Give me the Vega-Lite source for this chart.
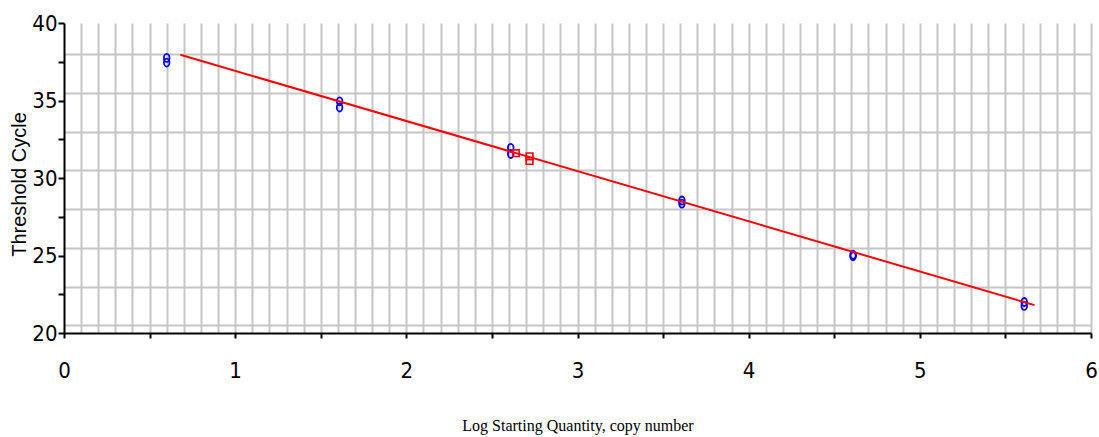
{
  "$schema": "https://vega.github.io/schema/vega-lite/v6.json",
  "autosize": "none",
  "width": 1027,
  "height": 310,
  "padding": {"left": 64, "top": 23, "right": 8, "bottom": 104},
  "background": "white",
  "config": {"view": {"stroke": null}},
  "datasets": {
    "samples": [
      {"logqty": 0.60, "ct": 37.75, "type": "Standard"},
      {"logqty": 0.60, "ct": 37.45, "type": "Standard"},
      {"logqty": 1.61, "ct": 34.95, "type": "Standard"},
      {"logqty": 1.61, "ct": 34.55, "type": "Standard"},
      {"logqty": 2.61, "ct": 31.95, "type": "Standard"},
      {"logqty": 2.61, "ct": 31.55, "type": "Standard"},
      {"logqty": 3.61, "ct": 28.55, "type": "Standard"},
      {"logqty": 3.61, "ct": 28.35, "type": "Standard"},
      {"logqty": 4.61, "ct": 25.05, "type": "Standard"},
      {"logqty": 4.61, "ct": 24.95, "type": "Standard"},
      {"logqty": 5.61, "ct": 22.0, "type": "Standard"},
      {"logqty": 5.61, "ct": 21.75, "type": "Standard"},
      {"logqty": 2.64, "ct": 31.6, "type": "Unknown"},
      {"logqty": 2.72, "ct": 31.4, "type": "Unknown"},
      {"logqty": 2.72, "ct": 31.1, "type": "Unknown"}
    ],
    "fit": [
      {"logqty": 0.68, "ct": 37.95},
      {"logqty": 5.67, "ct": 21.8}
    ]
  },
  "encoding": {
    "x": {
      "field": "logqty",
      "type": "quantitative",
      "scale": {"domain": [0, 6], "nice": false, "zero": false},
      "axis": {
        "title": "Log Starting Quantity, copy number",
        "titleFont": "Liberation Serif",
        "titleFontSize": 16,
        "titleFontWeight": "normal",
        "titleColor": "#000000",
        "titleY": 97,
        "titleBaseline": "alphabetic",
        "values": [0, 0.1, 0.2, 0.3, 0.4, 0.5, 0.6, 0.7, 0.8, 0.9, 1, 1.1, 1.2, 1.3, 1.4, 1.5, 1.6, 1.7, 1.8, 1.9, 2, 2.1, 2.2, 2.3, 2.4, 2.5, 2.6, 2.7, 2.8, 2.9, 3, 3.1, 3.2, 3.3, 3.4, 3.5, 3.6, 3.7, 3.8, 3.9, 4, 4.1, 4.2, 4.3, 4.4, 4.5, 4.6, 4.7, 4.8, 4.9, 5, 5.1, 5.2, 5.3, 5.4, 5.5, 5.6, 5.7, 5.8, 5.9, 6],
        "grid": true,
        "gridColor": "#c6c6c6",
        "gridWidth": 2,
        "gridOpacity": {"condition": {"test": "datum.value < 0.01", "value": 0}, "value": 1},
        "domainColor": "#000000",
        "domainWidth": 2,
        "tickColor": "#000000",
        "tickWidth": 2,
        "tickSize": 5,
        "tickOpacity": {"condition": {"test": "abs(datum.value * 2 - round(datum.value * 2)) < 0.001", "value": 1}, "value": 0},
        "labelExpr": "abs(datum.value - round(datum.value)) < 0.001 ? format(datum.value, 'd') : ''",
        "labelOverlap": false,
        "labelFlush": false,
        "labelBound": false,
        "labelFont": "Liberation Sans Narrow, DejaVu Sans Condensed, Arial Narrow, Liberation Sans",
        "labelFontSize": 22,
        "labelColor": "#000000",
        "labelPadding": 22
      }
    },
    "y": {
      "field": "ct",
      "type": "quantitative",
      "scale": {"domain": [20, 40], "nice": false, "zero": false},
      "axis": {
        "title": "Threshold Cycle",
        "titleFont": "Liberation Sans",
        "titleFontSize": 20,
        "titleFontWeight": "normal",
        "titleColor": "#000000",
        "titleX": -39,
        "titleY": 161,
        "titleBaseline": "alphabetic",
        "values": [20, 20.5, 22.5, 23, 25, 25.5, 27.5, 28, 30, 30.5, 32.5, 33, 35, 35.5, 37.5, 38, 40],
        "grid": true,
        "gridColor": "#c6c6c6",
        "gridWidth": 2,
        "gridOpacity": {"condition": {"test": "abs((datum.value * 2) % 5 - 1) < 0.001", "value": 1}, "value": 0},
        "domainColor": "#000000",
        "domainWidth": 2,
        "tickColor": "#000000",
        "tickWidth": 2,
        "tickSize": 6,
        "tickOpacity": {"condition": {"test": "abs((datum.value * 2) % 5) < 0.001", "value": 1}, "value": 0},
        "labelExpr": "datum.value % 5 === 0 ? format(datum.value, 'd') : ''",
        "labelOverlap": false,
        "labelFlush": false,
        "labelBound": false,
        "labelFont": "Liberation Sans Narrow, DejaVu Sans Condensed, Arial Narrow, Liberation Sans",
        "labelFontSize": 22,
        "labelColor": "#000000",
        "labelPadding": 1
      }
    }
  },
  "layer": [
    {
      "data": {"name": "samples"},
      "transform": [{"filter": "datum.type === 'Standard'"}],
      "mark": {
        "type": "point",
        "shape": "M0,-1A0.7,1 0 1,1 0,1A0.7,1 0 1,1 0,-1Z",
        "filled": false,
        "size": 64,
        "stroke": "#0000ff",
        "strokeWidth": 1.8,
        "opacity": 1
      }
    },
    {
      "data": {"name": "samples"},
      "transform": [{"filter": "datum.type === 'Unknown'"}],
      "mark": {
        "type": "point",
        "shape": "square",
        "filled": false,
        "size": 45,
        "stroke": "#ff0000",
        "strokeWidth": 1.6,
        "opacity": 1
      }
    },
    {
      "data": {"name": "fit"},
      "mark": {"type": "line", "color": "#ff0000", "strokeWidth": 2}
    }
  ]
}
